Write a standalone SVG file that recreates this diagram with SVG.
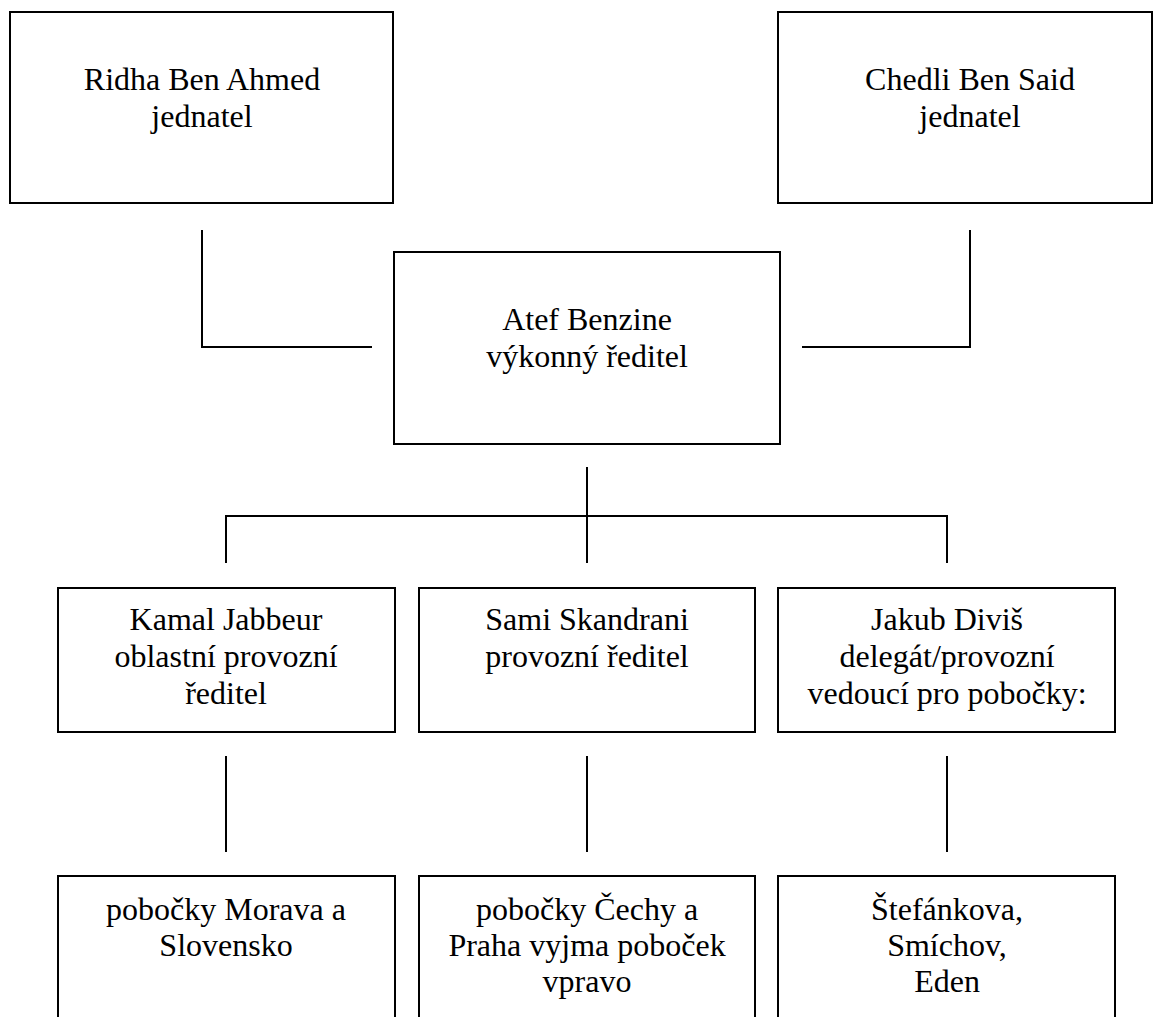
<svg xmlns="http://www.w3.org/2000/svg" width="1160" height="1017" viewBox="0 0 1160 1017">
<style>
.box{fill:#fff;stroke:#000;stroke-width:2}
.ln{fill:none;stroke:#000;stroke-width:2}
.t{font-family:'Liberation Serif','Times New Roman',serif;font-size:32px;fill:#000;text-anchor:middle}
</style>
<rect width="1160" height="1017" fill="#fff"/>
<g id="connectors">
<polyline class="ln" points="202,230 202,347 372,347"/>
<polyline class="ln" points="970,230 970,347 802,347"/>
<line class="ln" x1="587" y1="467" x2="587" y2="563"/>
<polyline class="ln" points="226,563 226,516 947,516 947,563"/>
<line class="ln" x1="226" y1="756" x2="226" y2="852"/>
<line class="ln" x1="587" y1="756" x2="587" y2="852"/>
<line class="ln" x1="947" y1="756" x2="947" y2="852"/>
</g>
<g id="ridha">
<rect class="box" x="10" y="12" width="383" height="191"/>
<text class="t" x="202" y="90">Ridha Ben Ahmed</text>
<text class="t" x="202" y="127">jednatel</text>
</g>
<g id="chedli">
<rect class="box" x="778" y="12" width="374" height="191"/>
<text class="t" x="970" y="90">Chedli Ben Said</text>
<text class="t" x="970" y="127">jednatel</text>
</g>
<g id="atef">
<rect class="box" x="394" y="252" width="386" height="192"/>
<text class="t" x="587" y="330">Atef Benzine</text>
<text class="t" x="587" y="367">výkonný ředitel</text>
</g>
<g id="kamal">
<rect class="box" x="58" y="588" width="337" height="144"/>
<text class="t" x="226" y="630">Kamal Jabbeur</text>
<text class="t" x="226" y="667">oblastní provozní</text>
<text class="t" x="226" y="704">ředitel</text>
</g>
<g id="sami">
<rect class="box" x="419" y="588" width="336" height="144"/>
<text class="t" x="587" y="630">Sami Skandrani</text>
<text class="t" x="587" y="667">provozní ředitel</text>
</g>
<g id="jakub">
<rect class="box" x="778" y="588" width="337" height="144"/>
<text class="t" x="947" y="630">Jakub Diviš</text>
<text class="t" x="947" y="667">delegát/provozní</text>
<text class="t" x="947" y="704">vedoucí pro pobočky:</text>
</g>
<g id="morava">
<rect class="box" x="58" y="876" width="337" height="160"/>
<text class="t" x="226" y="920">pobočky Morava a</text>
<text class="t" x="226" y="956">Slovensko</text>
</g>
<g id="cechy">
<rect class="box" x="419" y="876" width="336" height="160"/>
<text class="t" x="587" y="920">pobočky Čechy a</text>
<text class="t" x="587" y="956">Praha vyjma poboček</text>
<text class="t" x="587" y="992">vpravo</text>
</g>
<g id="praha">
<rect class="box" x="778" y="876" width="337" height="160"/>
<text class="t" x="947" y="920">Štefánkova,</text>
<text class="t" x="947" y="956">Smíchov,</text>
<text class="t" x="947" y="992">Eden</text>
</g>
</svg>
